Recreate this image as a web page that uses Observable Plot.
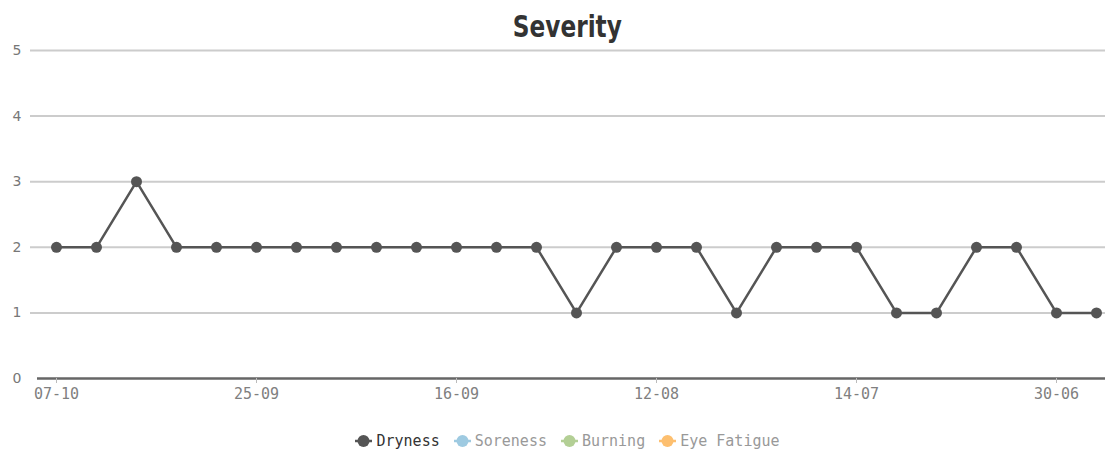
<!DOCTYPE html>
<html>
<head>
<meta charset="utf-8">
<script src="https://cdn.jsdelivr.net/npm/d3@7"></script>
<script src="https://cdn.jsdelivr.net/npm/@observablehq/plot@0.6"></script>
<style>
  body { margin: 0; background: #fff; width: 1105px; overflow: hidden; }
  #title { height: 40px; padding-left: 30px; box-sizing: border-box; text-align: center; overflow: visible; }
  #title span { display: inline-block; transform: scaleX(0.86); transform-origin: center;
    font-family: "DejaVu Sans", sans-serif; font-stretch: condensed; font-weight: bold;
    font-size: 30px; line-height: 54px; color: #333; }
  #legend { display: flex; justify-content: center; gap: 14px; padding-left: 30px;
    font-family: "DejaVu Sans Mono", monospace; font-size: 15px; height: 34px; align-items: center; margin-top: 4px; }
  .item { display: flex; align-items: center; gap: 4px; }
</style>
</head>
<body>
<div id="title"><span></span></div>
<div id="chart"></div>
<div id="legend"></div>
<script>
const titleText = "Severity";
const dates = ["07-10","05-10","03-10","01-10","28-09","25-09","23-09","21-09","20-09","18-09",
  "16-09","10-09","02-09","25-08","18-08","12-08","05-08","30-07","24-07","19-07",
  "14-07","11-07","08-07","05-07","02-07","30-06","28-06"];
const dryness = [2,2,3,2,2,2,2,2,2,2,2,2,2,1,2,2,2,1,2,2,2,1,1,2,2,1,1];
const tickLabels = ["07-10","25-09","16-09","12-08","14-07","30-06"];
const yTicks = [0,1,2,3,4,5];
const seriesNames = ["Dryness","Soreness","Burning","Eye Fatigue"];
const seriesColors = ["#555555","#9ecae1","#b3cf95","#fdbf6f"];
const activeSeries = ["Dryness"];

document.querySelector("#title span").textContent = titleText;
const data = dates.map((d, i) => ({date: d, value: dryness[i]}));

const chart = Plot.plot({
  width: 1105,
  height: 380,
  marginTop: 10,
  marginBottom: 42,
  marginLeft: 30,
  marginRight: 0,
  x: {type: "point", domain: dates, padding: 0.4375, align: 0.743},
  y: {domain: [0, 5]},
  marks: [
    Plot.ruleY(yTicks.filter(t => t > 0), {stroke: "#cccccc", strokeWidth: 2}),
    Plot.ruleY([0], {stroke: "#666666", strokeWidth: 2.5, insetLeft: 7}),
    Plot.axisY({ticks: yTicks, tickFormat: d3.format("d"), tickSize: 0, tickPadding: 9, fontSize: 14, fill: "#777",
      fontFamily: "DejaVu Sans", label: null}),
    Plot.axisX({ticks: tickLabels, tickSize: 5, stroke: "#bbb", tickPadding: 5, fontSize: 15, fill: "#808080",
      fontFamily: "DejaVu Sans Mono", label: null}),
    Plot.line(data, {x: "date", y: "value", stroke: seriesColors[0], strokeWidth: 2.5}),
    Plot.dot(data, {x: "date", y: "value", fill: seriesColors[0], r: 5.5})
  ]
});
chart.style.display = "block";
document.getElementById("chart").appendChild(chart);

const legend = document.getElementById("legend");
seriesNames.forEach((name, i) => {
  const item = document.createElement("div");
  item.className = "item";
  const active = activeSeries.includes(name);
  item.innerHTML = `<svg width="17" height="14"><line x1="0" x2="17" y1="7" y2="7" stroke="${seriesColors[i]}" stroke-width="2.5"/><circle cx="8.5" cy="7" r="6" fill="${seriesColors[i]}"/></svg><span style="color:${active ? '#333' : '#999'}">${name}</span>`;
  legend.appendChild(item);
});
</script>
</body>
</html>
